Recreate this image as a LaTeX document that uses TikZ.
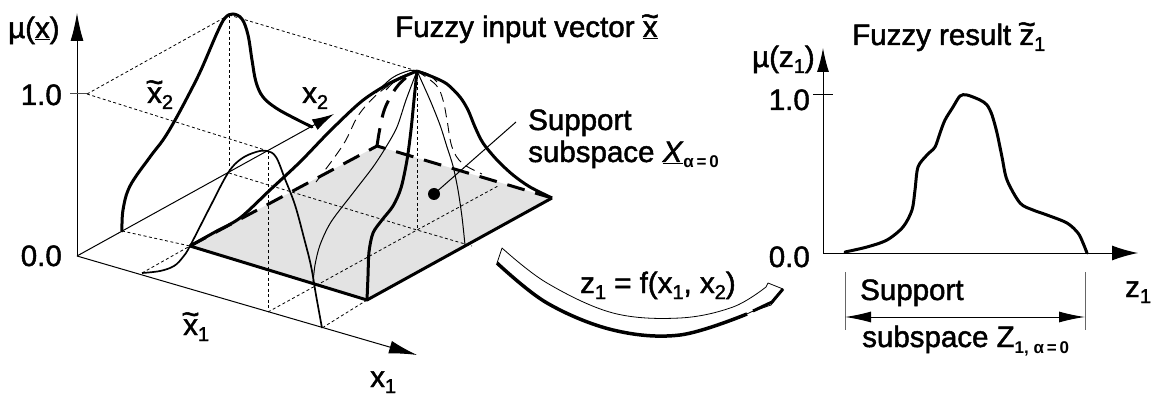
\documentclass[tikz,border=0pt]{standalone}
\usepackage{fontspec}
\setmainfont{Liberation Sans}[UprightFeatures={FakeBold=1.6}, ItalicFeatures={FakeBold=1.6}]
\usetikzlibrary{arrows.meta}
\newcommand\sbs[1]{\raisebox{-6pt}{\fontsize{20}{20}\selectfont #1}}
\newcommand\tld[1]{\leavevmode\makebox[0pt][l]{\hspace{-1.8pt}\raisebox{10.5pt}{\fontsize{31}{31}\selectfont\symbol{"7E}}}#1}
\tikzset{
  txt/.style={font=\fontsize{29.5}{31}\selectfont, inner sep=0pt},
  thinl/.style={line width=1pt},
  medl/.style={line width=1.7pt},
  thickl/.style={line width=3pt},
  dsh/.style={line width=0.8pt, dash pattern=on 3pt off 2.5pt},
  hid/.style={line width=3pt, dash pattern=on 18pt off 11pt},
  hidthin/.style={line width=0.9pt, dash pattern=on 10pt off 6pt},
  axarrow/.style={-{Latex[length=28pt,width=13pt]}},
  smallarrow/.style={-{Latex[length=24pt,width=12pt]}},
}
\begin{document}
\begin{tikzpicture}[x=1pt,y=-1pt]
\useasboundingbox (0,0) rectangle (1158,395);
% ---------- key points ----------
\coordinate (O) at (77,256);
\coordinate (muTip) at (77,13);
\coordinate (x1Tip) at (417,355);
\coordinate (x2Tip) at (334,114);
\coordinate (tickA) at (70,94);
\coordinate (tickB) at (87,94);
\coordinate (P2) at (229,15);
\coordinate (F2) at (229,173);
\coordinate (P1) at (268,151);
\coordinate (F1) at (268,312);
\coordinate (H) at (417,71);
\coordinate (B) at (417,230);
\coordinate (L) at (190,246);
\coordinate (F) at (367,300);
\coordinate (R) at (552,198);
\coordinate (K) at (377,146);
\coordinate (A1) at (142,273);
\coordinate (C2) at (122,231);
\coordinate (B1) at (322,328);
\coordinate (Q1) at (472,246);
\coordinate (Q2) at (498,186);
% ---------- support area ----------
\fill[black!11] (L) -- (F) -- (R) -- (K) -- cycle;
% ---------- axes ----------
\draw[thinl, axarrow] (O) -- (muTip);
\draw[thinl, axarrow] (O) -- (x1Tip);
\draw[thinl, -{Latex[length=22pt,width=12pt]}] (O) -- (x2Tip);
\draw[thinl, black!70] (tickA) -- (tickB);
% ---------- dashed construction lines ----------
\draw[dsh] (tickB) -- (P2);
\draw[dsh] (tickB) -- (P1);
\draw[dsh] (P2) -- (H);
\draw[dsh] (P2) -- (F2);
\draw[dsh] (P1) -- (F1);
\draw[dsh] (H) -- (B);
\draw[dsh] (C2) -- (L);
\draw[dsh] (A1) -- (L);
\draw[dsh] (F) -- (B1);
\draw[dsh] (F2) -- (B) -- (Q1);
\draw[dsh] (F1) -- (B) -- (Q2);
% ---------- hidden edges ----------
\draw[hid] (L) -- (K) -- (R);
\draw[hid] plot[smooth, tension=0.6] coordinates {(K) (380,128) (385,108) (396,88) (408,76) (H)};
\draw[hidthin] plot[smooth, tension=0.6] coordinates {(316,182) (343,145) (360,113) (385,88) (H)};
\draw[hidthin] plot[smooth, tension=0.6] coordinates {(H) (436,85) (443,100) (447,120) (452,147) (462,163) (482,174)};
% ---------- front edges ----------
\draw[thickl, line join=round] (L) -- (F) -- (R);
% ---------- membership x2 on left wall ----------
\draw[thickl, line cap=round] plot[smooth, tension=0.6] coordinates {(C2) (123,210) (130,186) (150,157) (163,140) (174,122) (188,96) (201,70) (217,33) (225,18) (233,14) (242,19) (248,35) (252,60) (256,82) (263,97) (276,108) (294,118) (312,127)};
% ---------- membership x1 on front wall ----------
\draw[medl] plot[smooth, tension=0.6] coordinates {(A1) (160,271) (174,266) (183,257) (L) (210,207) (228,173) (241,159) (256,152) (267,151) (276,157) (285,179) (295,205) (304,238) (311,266) (316,295) (B1)};
% ---------- hill ----------
\draw[thickl, line join=round] plot[smooth, tension=0.5] coordinates {(L) (215,232) (240,218) (270,190) (300,162) (330,131) (362,101) (390,83) (H)};
\draw[thickl] plot[smooth, tension=0.5] coordinates {(H) (433,77) (447,84) (460,97) (468,110) (475,127) (483,143) (497,160) (513,175) (530,187) (R)};
\draw[thickl] plot[smooth, tension=0.5] coordinates {(H) (414,100) (411,130) (407,160) (401,188) (393,206) (382,220) (373,233) (369,252) (368,276) (F)};
\draw[thinl] plot[smooth, tension=0.5] coordinates {(H) (406,100) (397,127) (386,147) (373,167) (353,193) (331,222) (320,245) (315,265) (313,283)};
\draw[thinl] plot[smooth, tension=0.5] coordinates {(H) (430,100) (440,125) (447,147) (453,166) (458,190) (462,217) (465,245)};
\draw[thinl] plot[smooth, tension=0.6] coordinates {(376,93) (392,78) (408,71) (H) (428,74) (437,82)};
\draw[thinl] plot[smooth, tension=0.6] coordinates {(386,90) (399,78) (H)};
% ---------- support marker ----------
\node[circle, fill=black, minimum size=12pt, inner sep=0pt] (dot) at (434,194) {};
\coordinate (lead) at (516,122);
\draw[thinl] (dot.center) -- (lead);
% ---------- labels left ----------
\node[txt, anchor=base west] (muxlab) at (8,38) {µ(\underline{x})};
\node[txt, anchor=base east] (oneL) at (62,105) {1.0};
\node[txt, anchor=base east] (zeroL) at (62,266) {0.0};
\node[txt, anchor=base west] (x1lab) at (370,387) {x\sbs{1}};
\node[txt, anchor=base west] (x2lab) at (302,103) {x\sbs{2}};
\node[txt, anchor=base west] (xt1lab) at (183,335) {\tld{x}\sbs{1}};
\node[txt, anchor=base west] (xt2lab) at (147,103) {\tld{x}\sbs{2}};
\node[txt, anchor=base west] (title1) at (395,37) {Fuzzy input vector \underline{\tld{x}}};
\node[txt, anchor=base west] (sup1) at (528,130) {Support};
\node[txt, anchor=base west] (sup2) at (528,162) {subspace \underline{\textit{X}}\raisebox{-6pt}{\fontsize{17}{17}\selectfont\bfseries α\,=\,0}};
% ---------- mapping arrow ----------
\draw[line width=0.8pt, fill=white, line join=round]
  plot[smooth, tension=0.6] coordinates {(502,248) (547,283) (613,313) (680,318) (733,307) (766,287)}
  -- (768,283) -- (783,289) -- (771,305) -- (751,312)
  -- plot[smooth, tension=0.6] coordinates {(749,313) (680,335) (613,330) (547,303) (497,263)} -- cycle;
\draw[line width=3.5pt] plot[smooth, tension=0.6] coordinates {(497,263) (547,303) (613,330) (680,335) (747,314)};
\draw[line width=3pt, line join=round] (753,311) -- (772,302) -- (783,289);
\node[txt, anchor=base west] (flab) at (580,293) {z\sbs{1} = f(x\sbs{1}, x\sbs{2})};
% ---------- right plot ----------
\coordinate (O2) at (823,253);
\draw[thinl, smallarrow] (O2) -- (823,48);
\draw[thinl, -{Latex[length=26pt,width=15pt]}] (O2) -- (1138,253);
\draw[thinl] (813,95) -- (833,95);
\node[txt, anchor=base east] (oneR) at (810,110) {1.0};
\node[txt, anchor=base east] (zeroR) at (810,267) {0.0};
\node[txt, anchor=base west] (muzlab) at (752,67) {µ(z\sbs{1})};
\node[txt, anchor=base west] (zlab) at (1125,297) {z\sbs{1}};
\node[txt, anchor=base west] (title2) at (852,45) {Fuzzy result \tld{z}\sbs{1}};
\draw[line width=3pt, line cap=round] plot[smooth, tension=0.5] coordinates {(845,252) (867,247) (887,240) (903,227) (912,210) (915,190) (918,167) (927,155) (935,147) (940,133) (945,120) (953,107) (960,96) (967,95) (980,100) (987,105) (992,115) (997,133) (1002,157) (1007,180) (1020,203) (1033,210) (1047,215) (1067,223) (1078,233) (1083,243) (1087,253)};
\draw[line width=1pt, black!60] (845,272) -- (845,330);
\draw[line width=1pt, black!60] (1085,272) -- (1085,330);
\draw[thinl, {Latex[length=26pt,width=11pt]}-{Latex[length=26pt,width=11pt]}] (845,317) -- (1085,317);
\node[txt, anchor=base west] (sup3) at (860,300) {Support};
\node[txt, anchor=base west] (sup4) at (862,347) {subspace Z\raisebox{-6pt}{\fontsize{17}{17}\selectfont\bfseries 1, α\,=\,0}};
\end{tikzpicture}
\end{document}
